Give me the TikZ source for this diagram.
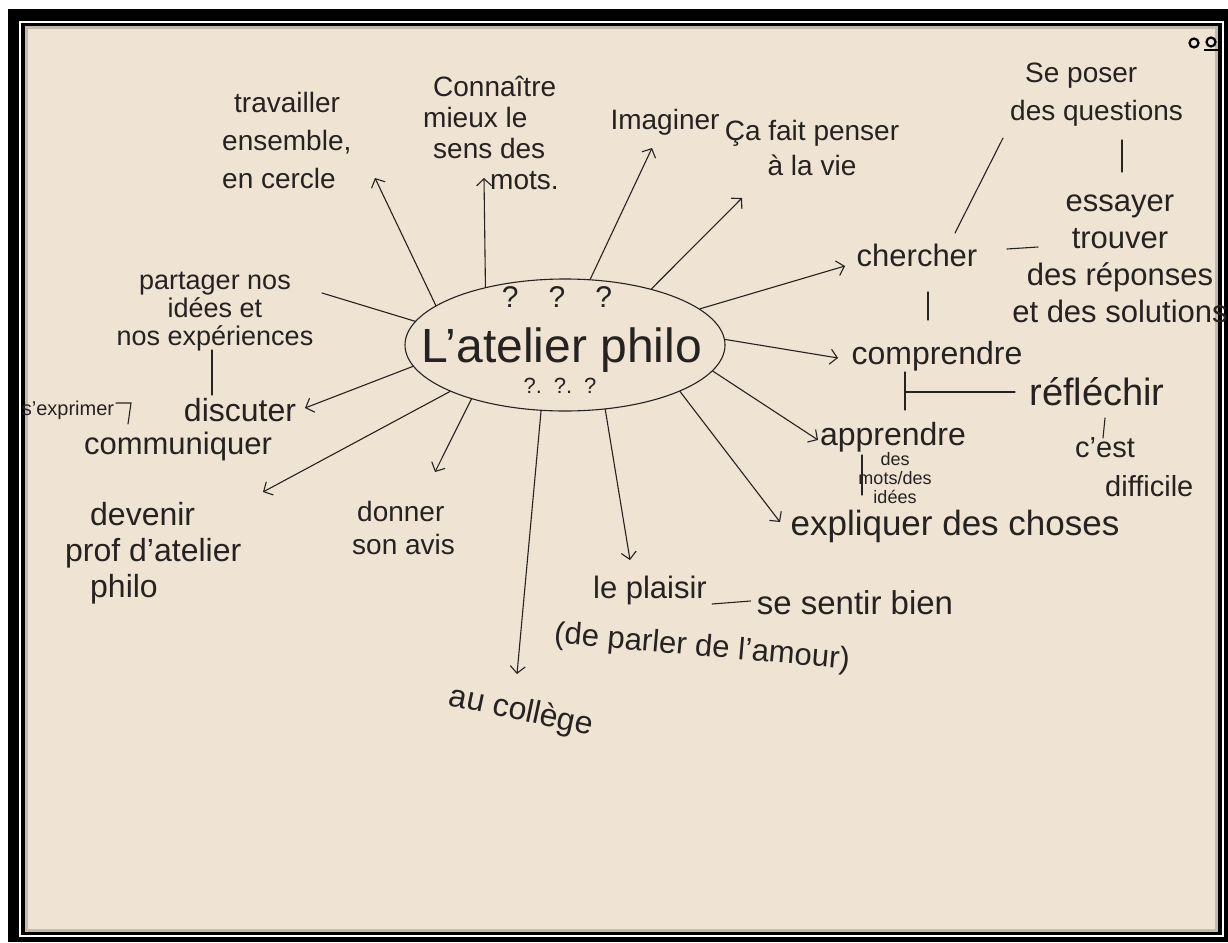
\documentclass[tikz,border=0pt]{standalone}
\usepackage{fontspec}
\setmainfont{Liberation Sans}
\usetikzlibrary{shapes.geometric,arrows.meta}
\definecolor{board}{RGB}{239,227,212}
\definecolor{ink}{RGB}{38,34,32}
\begin{document}
\begin{tikzpicture}[x=1pt,y=-1pt,
  every node/.style={text=ink,inner sep=0pt},
  ln/.style={draw=ink,line width=1.1pt,line cap=round},
  arr/.style={ln,-{Straight Barb[length=7pt,width=15pt]}},
  blob/.style={ellipse,draw=ink,line width=1.1pt,minimum width=320pt,minimum height=132pt},
  fs/.style 2 args={font=\fontsize{#1}{#2}\selectfont}]
% frame
\fill[white] (0,0) rectangle (1228,942);
\fill[black] (8,9) rectangle (1228,942);
\fill[white] (19,21) rectangle (1224,937);
\fill[black] (21,23) rectangle (1222,935);
\fill[board] (25,26) rectangle (1218,932);
\draw[line width=3pt,board!60!black,opacity=0.45] (26.5,27.5) rectangle (1216.5,930.5);
% magnets
\draw[line width=2.2pt,black] (1194,43) circle (4.5pt);
\draw[line width=2.2pt,black] (1211,42) circle (4.5pt);
\draw[line width=1.5pt,black] (1204,50) -- (1218,50);

% central blob
\node[blob] (atelier) at (565,345) {};
\node[fs={48}{52}] (title) at (562,350) {L'atelier philo};
\node[fs={30}{34}] (qtop) at (557,297) {?\hspace{30pt}?\hspace{30pt}?};
\node[fs={22}{26}] (qbot) at (560,386) {?.\hspace{12pt}?.\hspace{12pt}?};

% texts
\node[fs={28}{38},align=left,anchor=west] (trav) at (222,140) {\hspace*{12pt}travailler\\ensemble,\\en cercle};
\node[fs={28}{31},align=left,anchor=west] (conn) at (423,133) {\hspace*{10pt}Connaître\\mieux le\\\hspace*{10pt}sens des\\\hspace*{67pt}mots.};
\node[fs={28}{34}] (imag) at (665,122) {Imaginer};
\node[fs={28}{35},align=center] (ca) at (812,148) {Ça fait penser\\à la vie};
\node[fs={28}{38},align=left,anchor=west] (sep) at (1010,95) {\hspace*{15pt}Se poser\\des questions};
\node[fs={31}{37},align=center] (ess) at (1120,259) {essayer\\trouver\\des réponses\\et des solutions};
\node[fs={31}{36}] (cherch) at (917,255) {chercher};
\node[fs={32}{36}] (comp) at (937,356) {comprendre};
\node[fs={38}{42}] (refl) at (1097,392) {réfléchir};
\node[fs={29}{39},align=left,anchor=west] (cest) at (1075,467) {c'est\\\hspace*{30pt}difficile};
\node[fs={32}{36}] (appr) at (893,437) {apprendre};
\node[fs={18}{19},align=center] (mots) at (895,478) {des\\mots/des\\idées};
\node[fs={35}{40}] (expl) at (955,526) {expliquer des choses};
\node[fs={31}{34}] (plai) at (650,590) {le plaisir};
\node[fs={33}{38}] (sent) at (855,603) {se sentir bien};
\node[fs={31}{34},rotate=-5] (amour) at (702,648) {(de parler de l'amour)};
\node[fs={32}{36},rotate=-12] (col) at (521,712) {au collège};
\node[fs={28}{33},align=left,anchor=west] (don) at (352,528) {\hspace*{5pt}donner\\son avis};
\node[fs={32}{36},align=left,anchor=west] (dev) at (65,553) {\hspace*{25pt}devenir\\prof d'atelier\\\hspace*{25pt}philo};
\node[fs={20}{24}] (expr) at (68,410) {s'exprimer};
\node[fs={32}{36}] (disc) at (240,410) {discuter};
\node[fs={31}{36}] (comm) at (178,446) {communiquer};
\node[fs={27}{28},align=center] (part) at (215,312) {partager nos\\idées et\\nos expériences};

% arrow tips and short-line ends
\coordinate (tTrav) at (375,178);
\coordinate (tConn) at (484,178);
\coordinate (tImag) at (652,148);
\coordinate (tCa) at (742,198);
\coordinate (tCherch) at (845,266);
\coordinate (tComp) at (838,358);
\coordinate (tAppr) at (818,440);
\coordinate (tExpl) at (780,522);
\coordinate (tPlai) at (630,560);
\coordinate (tCol) at (517,674);
\coordinate (tDon) at (435,472);
\coordinate (tDev) at (263,492);
\coordinate (tDisc) at (305,408);
\coordinate (tPart) at (322,293);

% spokes
\draw[arr] (atelier.163) -- (tTrav);
\draw[arr] (atelier.144) -- (tConn);
\draw[arr] (atelier.69) -- (tImag);
\draw[arr] (atelier.33) -- (tCa);
\draw[arr] (atelier.15) -- (tCherch);
\draw[arr] (atelier.2) -- (tComp);
\draw[arr] (atelier.-10) -- (tAppr);
\draw[arr] (atelier.-22) -- (tExpl);
\draw[arr] (atelier.-58) -- (tPlai);
\draw[arr] (atelier.-110) -- (tCol);
\draw[arr] (atelier.-150) -- (tDon);
\draw[arr] (atelier.-158) -- (tDev);
\draw[arr] (atelier.-172) -- (tDisc);
\draw[ln] (atelier.171) -- (tPart);

% secondary links
\coordinate (pA) at (212,350); \coordinate (pB) at (212,395);
\draw[ln] (pA) -- (pB);
\coordinate (eA) at (116,403); \coordinate (eB) at (131,403); \coordinate (eC) at (128,424);
\draw[ln] (eA) -- (eB) -- (eC);
\coordinate (qA) at (955,233); \coordinate (qB) at (1003,138);
\draw[ln] (qA) -- (qB);
\coordinate (sA) at (1122,140); \coordinate (sB) at (1122,172);
\draw[ln] (sA) -- (sB);
\coordinate (cA) at (1007,249); \coordinate (cB) at (1038,247);
\draw[ln] (cA) -- (cB);
\coordinate (vA) at (928,292); \coordinate (vB) at (928,320);
\draw[ln] (vA) -- (vB);
\coordinate (rA) at (905,372); \coordinate (rB) at (905,410); \coordinate (rC) at (905,392); \coordinate (rD) at (1015,392);
\draw[ln] (rA) -- (rB);
\draw[ln] (rC) -- (rD);
\coordinate (dA) at (1105,418); \coordinate (dB) at (1103,438);
\draw[ln] (dA) -- (dB);
\coordinate (mA) at (862,455); \coordinate (mB) at (862,495);
\draw[ln] (mA) -- (mB);
\draw[ln] ([xshift=5pt,yshift=-14pt]plai.east) -- ([xshift=-6pt,yshift=2pt]sent.west);
\end{tikzpicture}
\end{document}
